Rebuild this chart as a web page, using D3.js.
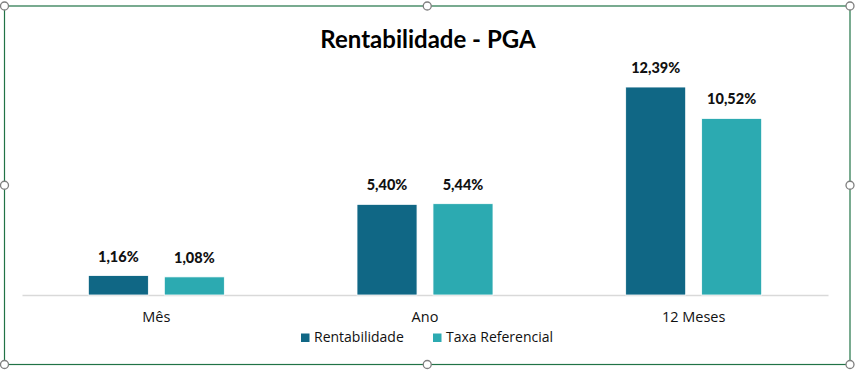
<!DOCTYPE html>
<html><head><meta charset="utf-8">
<script src="https://cdn.jsdelivr.net/npm/d3@7"></script>
<style>body{margin:0;background:#fff}svg{display:block}text{font-family:Lato,"Open Sans",sans-serif}</style>
</head><body><svg id="c" width="857" height="371"></svg>
<script>
const categories = ["Mês", "Ano", "12 Meses"];
const seriesNames = ["Rentabilidade", "Taxa Referencial"];
const rentabilidade = [1.16, 5.40, 12.39];
const taxaReferencial = [1.08, 5.44, 10.52];
const labelsRent = ["1,16%", "5,40%", "12,39%"];
const labelsTaxa = ["1,08%", "5,44%", "10,52%"];
const colors = ["#106785", "#2caab1"];

const svg = d3.select("#c");
const x0 = d3.scaleBand().domain(categories).range([22, 828]).padding(0);
const x1 = d3.scaleBand().domain(seriesNames).range([-68, 68]).paddingInner(0.21);
const y = d3.scaleLinear().domain([0, 14]).range([295, 60]);

const data = categories.map((c, i) => ({
  cat: c,
  vals: [
    {s: seriesNames[0], v: rentabilidade[i], l: labelsRent[i]},
    {s: seriesNames[1], v: taxaReferencial[i], l: labelsTaxa[i]}
  ]
}));

// title
svg.append("text").attr("x", 428).attr("y", 48).attr("text-anchor", "middle")
  .attr("font-size", 24).attr("font-weight", "bold").attr("fill", "#000").text("Rentabilidade - PGA");

// baseline axis
const xAxis = d3.axisBottom(x0).tickSize(0).tickPadding(17);
const ax = svg.append("g").attr("transform", "translate(0,295)").call(xAxis);
ax.select(".domain").attr("stroke", "#d9d9d9").attr("stroke-width", 1.5);
ax.selectAll("text").attr("font-size", 14.5).attr("fill", "#111").attr("dy", "0.71em")
  .style("font-family", "'Open Sans', sans-serif");

const g = svg.selectAll(".grp").data(data).join("g")
  .attr("transform", d => `translate(${x0(d.cat) + x0.bandwidth() / 2},0)`);
g.selectAll("rect").data(d => d.vals).join("rect")
  .attr("x", d => x1(d.s)).attr("width", x1.bandwidth())
  .attr("y", d => y(d.v)).attr("height", d => y(0) - y(d.v))
  .attr("fill", (d, i) => colors[i]).attr("stroke", "#fff").attr("stroke-width", 0.8);
g.selectAll("text.lbl").data(d => d.vals).join("text").attr("class", "lbl")
  .attr("x", d => x1(d.s) + x1.bandwidth() / 2).attr("y", d => y(d.v) - 14)
  .attr("text-anchor", "middle").attr("font-size", 14.5).attr("font-weight", "900")
  .attr("fill", "#111").text(d => d.l);

// legend
const legX = [301, 433];
seriesNames.forEach((s, i) => {
  svg.append("rect").attr("x", legX[i]).attr("y", 333.5).attr("width", 8.5).attr("height", 8.5).attr("fill", colors[i]);
  svg.append("text").attr("x", legX[i] + 13).attr("y", 342).attr("font-size", 14)
    .style("font-family", "'Open Sans', sans-serif")
    .attr("fill", "#111").text(s);
});

// selection frame
const L = 4.5, R = 850, T = 6, B = 364.5;
svg.append("rect").attr("x", L).attr("y", T).attr("width", R - L).attr("height", B - T)
  .attr("fill", "none").attr("stroke", "#217346").attr("stroke-width", 1.2);
const mx = (L + R) / 2, my = (T + B) / 2;
[[L,T],[mx,T],[R,T],[L,my],[R,my],[L,B],[mx,B],[R,B]].forEach(p => {
  svg.append("circle").attr("cx", p[0]).attr("cy", p[1]).attr("r", 4)
    .attr("fill", "#fff").attr("stroke", "#7f7f7f").attr("stroke-width", 1.3);
});
</script></body></html>
